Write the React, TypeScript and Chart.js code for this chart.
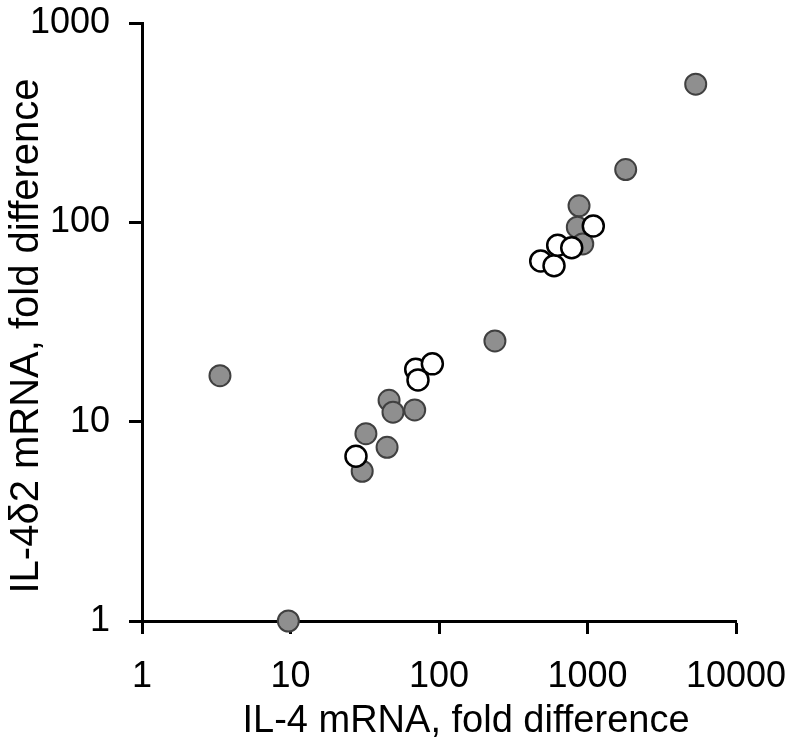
import { useEffect, useRef } from "react";
import { Chart, registerables } from "chart.js";

Chart.register(...registerables);

// Gray (filled) points
const grayX = [3.35, 9.67, 30.4, 32.2, 44.7, 46.1, 49.0, 68.6, 238, 877, 854, 929, 1808, 5354];
const grayY = [17.0, 1.0, 5.64, 8.7, 7.44, 12.8, 11.15, 11.45, 25.4, 121, 94.5, 77.9, 184, 493];

// Open (white) points
const openX = [27.6, 69.7, 72.2, 90.2, 484, 595, 630, 783, 1094];
const openY = [6.71, 18.3, 16.2, 19.5, 64.0, 60.6, 76.8, 74.6, 95.9];

const xTicks = [1, 10, 100, 1000, 10000];
const yTicks = [1, 10, 100, 1000];

const xTitle = "IL-4 mRNA, fold difference";
const yTitle = "IL-4δ2 mRNA, fold difference";

const FONT = "'Liberation Sans', Arial, sans-serif";

export default function App() {
  const ref = useRef<HTMLCanvasElement>(null);

  useEffect(() => {
    document.body.style.margin = "0";
    const canvas = ref.current;
    if (!canvas) return;

    const titlePlugin = {
      id: "axisTitles",
      afterDraw(chart: any) {
        const { ctx, chartArea } = chart;
        ctx.save();
        ctx.fillStyle = "#000";
        ctx.textAlign = "center";
        ctx.textBaseline = "alphabetic";
        ctx.font = `38px ${FONT}`;
        ctx.fillText(xTitle, (chartArea.left + chartArea.right) / 2 + 27, 732);
        ctx.font = `40px ${FONT}`;
        ctx.translate(38, (chartArea.top + chartArea.bottom) / 2 + 14);
        ctx.rotate(-Math.PI / 2);
        ctx.fillText(yTitle, 0, 0);
        ctx.restore();
      },
    };

    const axisCommon = {
      type: "logarithmic" as const,
      grid: {
        display: true,
        drawOnChartArea: false,
        drawTicks: true,
        tickLength: 13,
        tickWidth: 3,
        tickColor: "#000",
      },
      border: { display: true, color: "#000", width: 3 },
    };

    const chart = new Chart(canvas, {
      type: "scatter",
      data: {
        datasets: [
          {
            label: "open",
            data: openX.map((x, i) => ({ x, y: openY[i] })),
            backgroundColor: "#ffffff",
            borderColor: "#000000",
            borderWidth: 2.5,
            pointRadius: 10.5,
            order: 0,
            clip: false,
          },
          {
            label: "gray",
            data: grayX.map((x, i) => ({ x, y: grayY[i] })),
            backgroundColor: "#8f8f8f",
            borderColor: "#404040",
            borderWidth: 2,
            pointRadius: 10.5,
            order: 1,
            clip: false,
          },
        ],
      },
      options: {
        animation: false,
        responsive: false,
        maintainAspectRatio: false,
        layout: { padding: { top: 23, right: 64, left: 0, bottom: 0 } },
        plugins: {
          legend: { display: false },
          tooltip: { enabled: false },
          title: { display: false },
        },
        scales: {
          x: {
            ...axisCommon,
            position: "bottom",
            min: 1,
            max: 10000,
            afterBuildTicks: (scale: any) => {
              scale.ticks = xTicks.map((v) => ({ value: v }));
            },
            afterFit: (scale: any) => {
              scale.height = 127;
              scale.paddingLeft = 0;
              scale.paddingRight = 0;
              scale.paddingTop = 0;
              scale.paddingBottom = 0;
            },
            ticks: {
              color: "#000",
              font: { family: FONT, size: 36 },
              padding: 21,
              maxRotation: 0,
              autoSkip: false,
              callback: (v: any) => String(v),
            },
          },
          y: {
            ...axisCommon,
            position: "left",
            min: 1,
            max: 1000,
            afterBuildTicks: (scale: any) => {
              scale.ticks = yTicks.map((v) => ({ value: v }));
            },
            afterFit: (scale: any) => {
              scale.width = 142;
              scale.paddingLeft = 0;
              scale.paddingRight = 0;
              scale.paddingTop = 0;
              scale.paddingBottom = 0;
            },
            ticks: {
              color: "#000",
              font: { family: FONT, size: 36 },
              padding: 19,
              autoSkip: false,
              callback: (v: any) => String(v),
            },
          },
        },
      },
      plugins: [titlePlugin],
    });

    return () => chart.destroy();
  }, []);

  return (
    <div style={{ width: 800, height: 748, position: "relative" }}>
      <canvas ref={ref} width={800} height={748} />
    </div>
  );
}
